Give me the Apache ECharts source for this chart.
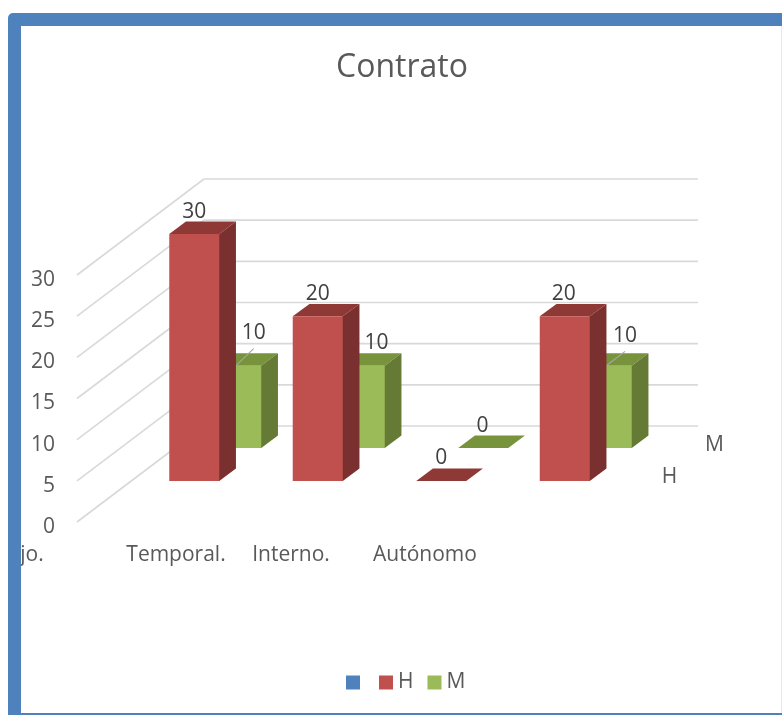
<!DOCTYPE html>
<html>
<head>
<meta charset="utf-8">
<style>html,body{margin:0;padding:0;background:#fff}#c{width:782px;height:715px}</style>
<script src="https://cdn.jsdelivr.net/npm/echarts@6/dist/echarts.min.js"></script>
</head>
<body>
<div id="c"></div>
<script>
const categories = ['jo.', 'Temporal.', 'Interno.', 'Autónomo'];
const valuesH = [30, 20, 0, 20];
const valuesM = [10, 10, 0, 10];
const yTicks = [0, 5, 10, 15, 20, 25, 30];
const seriesNames = ['\u200b', 'H', 'M'];

const FONT = '21px "Open Sans"';
const TEXT = '#404040';
const AXIS = '#595959';
const WALL = { dx: 127, dy: -96 };
const BAR_W = 50;
const BAR_D = { dx: 16.7, dy: -12.4 };
const H_STYLE = { front: '#c0504d', top: '#8f3937', side: '#7a302e', dx: 55.5, dy: -41, nameDx: 43, nameDy: -4,
  lab: [[0, -22], [0, -22], [0, -23], [-1, -22]], leader: [] };
const M_STYLE = { front: '#9bbb59', top: '#77933c', side: '#657a35', dx: 97.5, dy: -74, nameDx: 46, nameDy: -3,
  lab: [[17.4, -32.3], [16.7, -22.3], [-0.7, -22], [18.3, -30]],
  leader: [[[-0.3, 0], [17.4, -17]], null, null, [[-0.6, 0], [18.3, -14.3]]] };
const X_LABEL_SHIFT = [-106.75, -86.25, -94.75, -84.25];

function poly(points, fill) {
  return { type: 'polygon', shape: { points }, style: { fill } };
}

function barRender(st, name) {
  return function (params, api) {
    const cat = api.value(0), val = api.value(1);
    const t = api.coord([cat, val]), b = api.coord([cat, 0]);
    const x0 = t[0] + st.dx - BAR_W / 2, x1 = x0 + BAR_W;
    const yT = t[1] + st.dy, yB = b[1] + st.dy;
    const dx = BAR_D.dx, dy = BAR_D.dy;
    const kids = [];
    kids.push(poly([[x0, yT], [x1, yT], [x1 + dx, yT + dy], [x0 + dx, yT + dy]], st.top));
    if (val > 0) {
      kids.push(poly([[x1 - 1, yT], [x1, yT], [x1 + dx, yT + dy], [x1 + dx, yB + dy], [x1, yB], [x1 - 1, yB]], st.side));
      kids.push(poly([[x0, yT], [x1, yT], [x1, yB], [x0, yB]], st.front));
    }
    const cx = t[0] + st.dx;
    const ld = st.leader[params.dataIndex];
    if (ld) {
      kids.push({ type: 'line', shape: { x1: cx + ld[0][0], y1: yT + ld[0][1], x2: cx + ld[1][0], y2: yT + ld[1][1] }, style: { stroke: '#a6a6a6', lineWidth: 1.2 } });
    }
    const l = st.lab[params.dataIndex];
    kids.push({ type: 'text', style: { text: String(val), x: cx + l[0], y: yT + l[1], align: 'center', verticalAlign: 'middle', font: FONT, fill: TEXT } });
    if (params.dataIndex === categories.length - 1) {
      const cs = params.coordSys;
      kids.push({ type: 'text', style: { text: name, x: cs.x + cs.width + st.dx + st.nameDx, y: b[1] + st.dy + st.nameDy, align: 'center', verticalAlign: 'middle', font: FONT, fill: AXIS } });
    }
    return { type: 'group', children: kids };
  };
}

function wallRender(params, api) {
  const cs = params.coordSys;
  const y = api.coord([0, api.value(1)])[1];
  const xb = cs.x + WALL.dx, yb = y + WALL.dy;
  const st = { stroke: '#d9d9d9', lineWidth: 1.6 };
  return { type: 'group', children: [
    { type: 'line', shape: { x1: cs.x, y1: y, x2: xb, y2: yb }, style: st },
    { type: 'line', shape: { x1: xb, y1: yb, x2: xb + cs.width, y2: yb }, style: st }
  ] };
}

function xLabelRender(params, api) {
  const i = params.dataIndex;
  const p = api.coord([i, 0]);
  return { type: 'text', style: { text: categories[i], x: p[0] + X_LABEL_SHIFT[i], y: p[1] + 33, align: 'center', verticalAlign: 'middle', font: FONT, fill: AXIS } };
}

const chart = echarts.init(document.getElementById('c'), null, { renderer: 'canvas', width: 782, height: 715 });
chart.setOption({
  animation: false,
  backgroundColor: '#ffffff',
  title: { text: 'Contrato', left: 397, top: 47, textAlign: 'center', textStyle: { fontFamily: 'Open Sans', fontSize: 32, fontWeight: 'normal', color: '#595959' } },
  legend: {
    left: 346, top: 672, padding: 0, itemWidth: 14, itemHeight: 14, itemGap: 14, selectedMode: false,
    icon: 'rect', data: seriesNames,
    textStyle: { fontFamily: 'Open Sans', fontSize: 21, color: AXIS }
  },
  grid: { left: 77, top: 275, width: 494, height: 247 },
  xAxis: { type: 'category', data: categories, show: false },
  yAxis: {
    type: 'value', min: 0, max: 30, interval: 5,
    axisLine: { show: false }, axisTick: { show: false }, splitLine: { show: false },
    axisLabel: { margin: 22, fontFamily: 'Open Sans', fontSize: 21, color: AXIS, verticalAlign: 'top', lineHeight: 10 }
  },
  graphic: { elements: [
    { type: 'rect', z: -10, silent: true, shape: { x: 8, y: 13, width: 774, height: 702, r: [5, 0, 0, 0] }, style: { fill: '#4f81bd' } },
    { type: 'rect', z: -9, silent: true, shape: { x: 21, y: 26, width: 760, height: 687 }, style: { fill: '#ffffff' } },
    { type: 'rect', z: -9, silent: true, shape: { x: 781, y: 26, width: 1, height: 687 }, style: { fill: '#e3e8f2' } },
    { type: 'rect', z: 100, silent: true, shape: { x: 8, y: 26, width: 13, height: 689 }, style: { fill: '#4f81bd' } }
  ] },
  series: [
    { type: 'custom', name: 'grid', silent: true, data: yTicks.map(v => [0, v]), renderItem: wallRender, z: 1 },
    { type: 'custom', name: seriesNames[0], itemStyle: { color: '#4f81bd' }, data: [], renderItem: () => null, z: 2 },
    { type: 'custom', name: seriesNames[2], itemStyle: { color: '#9bbb59' }, silent: true, data: valuesM.map((v, i) => [i, v]), renderItem: barRender(M_STYLE, seriesNames[2]), z: 3 },
    { type: 'custom', name: seriesNames[1], itemStyle: { color: '#c0504d' }, silent: true, data: valuesH.map((v, i) => [i, v]), renderItem: barRender(H_STYLE, seriesNames[1]), z: 4 },
    { type: 'custom', name: 'xlabels', silent: true, data: categories.map((c, i) => [i, 0]), renderItem: xLabelRender, z: 5 }
  ]
});
</script>
</body>
</html>
